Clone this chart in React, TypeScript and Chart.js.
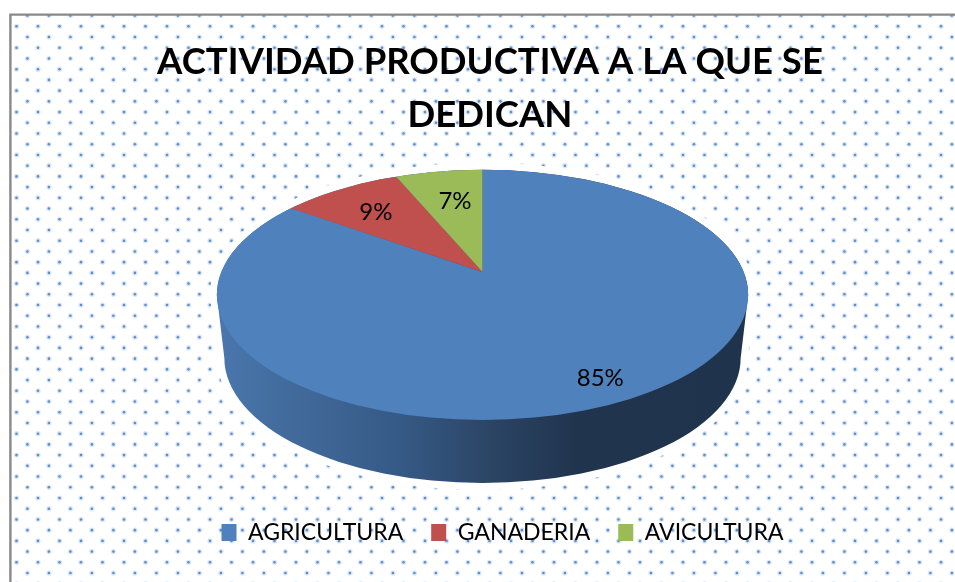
import React, { useEffect, useRef } from "react";
import { Chart, registerables } from "chart.js";

Chart.register(...registerables);

const titleLines = ["ACTIVIDAD PRODUCTIVA A LA QUE SE", "DEDICAN"];
const categories = ["AGRICULTURA", "GANADERIA", "AVICULTURA"];
const shares = [85, 9, 7];
const sliceColors = ["#4F81BD", "#C0504D", "#9BBB59"];
const labelRadii = [0.896, 0.596, 0.525];
const labelAngleNudge = [-0.02, -0.023, 0.019];

const FONT = "Lato, Carlito, 'Open Sans', sans-serif";
const STRETCH_X = 265.5 / 125;
const WEDGE_Y = 1.09;
const APEX_SHIFT = 23 / 125;
const WALL = { drop: 63, narrow: 7.5 };

function ellipse(ctx: CanvasRenderingContext2D, cx: number, cy: number, rx: number, ry: number) {
  ctx.beginPath();
  ctx.ellipse(cx, cy, rx, ry, 0, 0, Math.PI * 2);
}

function silhouette(ctx: CanvasRenderingContext2D, cx: number, cy: number, rx: number, ry: number) {
  const bx = rx - WALL.narrow;
  ctx.beginPath();
  ctx.ellipse(cx, cy, rx, ry, 0, Math.PI, 0, false);
  ctx.lineTo(cx + bx, cy + WALL.drop);
  ctx.ellipse(cx, cy + WALL.drop, bx, ry, 0, 0, Math.PI, false);
  ctx.closePath();
}

const pie3d = {
  id: "pie3d",
  beforeDraw(chart: any) {
    const { ctx, width, height } = chart;
    ctx.save();
    ctx.fillStyle = "#ffffff";
    ctx.fillRect(0, 0, width, height);
    ctx.beginPath();
    ctx.rect(10, 15, width, height);
    ctx.clip();
    let row = 0;
    for (let y = 15.6; y < height + 10; y += 10.72, row++) {
      for (let x = row % 2 ? 16.5 : 27.4; x < width + 10; x += 21.5) {
        ctx.fillStyle = "rgba(120,165,225,0.28)";
        ctx.beginPath();
        ctx.arc(x, y, 2.6, 0, Math.PI * 2);
        ctx.fill();
        ctx.fillStyle = "#5f8fcb";
        ctx.beginPath();
        ctx.arc(x, y, 1.3, 0, Math.PI * 2);
        ctx.fill();
      }
    }
    ctx.restore();
    ctx.save();
    ctx.strokeStyle = "#898989";
    ctx.lineWidth = 2.4;
    ctx.beginPath();
    ctx.moveTo(10.4, height + 5);
    ctx.lineTo(10.4, 14.6);
    ctx.lineTo(width + 5, 14.6);
    ctx.stroke();
    ctx.restore();
  },
  afterLayout(chart: any) {
    chart.titleBlock.left += 7.5;
    chart.titleBlock.right += 7.5;
    chart.legend.left += 20;
    chart.legend.right += 20;
    chart.legend.top += 73;
    chart.legend.bottom += 73;
  },
  afterDatasetsUpdate(chart: any) {
    chart.getDatasetMeta(0).data.forEach((arc: any) => {
      if (arc.$R) return;
      arc.$R = arc.outerRadius;
      arc.$cy = arc.y;
      arc.y = arc.y - arc.$R * APEX_SHIFT;
      arc.outerRadius = arc.$R * (1 + APEX_SHIFT + 0.1);
    });
  },
  beforeDatasetsDraw(chart: any) {
    const { ctx } = chart;
    const a = chart.getDatasetMeta(0).data[0];
    const cx = a.x;
    const cy = a.$cy;
    const R = a.$R;
    const rx = R * STRETCH_X;
    ctx.save();
    ctx.strokeStyle = "#ffffff";
    ctx.fillStyle = "#ffffff";
    ctx.lineWidth = 14;
    ctx.lineJoin = "round";
    silhouette(ctx, cx, cy, rx, R);
    ctx.stroke();
    ctx.fill();
    const grad = ctx.createLinearGradient(cx - rx, 0, cx + rx, 0);
    grad.addColorStop(0, "#4A77AE");
    grad.addColorStop(0.1, "#446EA0");
    grad.addColorStop(0.35, "#355985");
    grad.addColorStop(0.52, "#2B4464");
    grad.addColorStop(0.68, "#20344D");
    grad.addColorStop(1, "#1F334C");
    ctx.fillStyle = grad;
    silhouette(ctx, cx, cy, rx, R);
    ctx.fill();
    ellipse(ctx, cx, cy, rx, R);
    ctx.clip();
    ctx.translate(cx, a.y);
    ctx.scale(STRETCH_X, WEDGE_Y);
    ctx.translate(-cx, -a.y);
  },
  afterDatasetsDraw(chart: any) {
    const { ctx } = chart;
    ctx.restore();
    ctx.save();
    ctx.font = `24px ${FONT}`;
    ctx.fillStyle = "#000000";
    ctx.textAlign = "center";
    ctx.textBaseline = "middle";
    chart.getDatasetMeta(0).data.forEach((arc: any, i: number) => {
      const mid = (arc.startAngle + arc.endAngle) / 2 + labelAngleNudge[i];
      const r = arc.$R * labelRadii[i];
      ctx.fillText(
        `${shares[i]}%`,
        arc.x + Math.cos(mid) * r * STRETCH_X,
        arc.y + Math.sin(mid) * r * WEDGE_Y
      );
    });
    ctx.restore();
  },
};

export default function App() {
  const ref = useRef<HTMLCanvasElement>(null);
  useEffect(() => {
    const chart = new Chart(ref.current as HTMLCanvasElement, {
      type: "pie",
      data: {
        labels: categories,
        datasets: [
          {
            data: shares,
            backgroundColor: sliceColors,
            borderWidth: 0,
            clip: false,
          } as any,
        ],
      },
      plugins: [pie3d],
      options: {
        animation: false,
        responsive: false,
        events: [],
        rotation: 0,
        layout: { padding: { left: 10, right: 0, top: 0, bottom: 101 } },
        plugins: {
          tooltip: { enabled: false },
          title: {
            display: true,
            text: titleLines,
            color: "#000000",
            font: { family: FONT, size: 36.5, weight: "bold", lineHeight: 1.45 },
            padding: { top: 35.5, bottom: 28.5 },
          },
          legend: {
            position: "bottom",
            labels: {
              color: "#000000",
              font: { family: FONT, size: 23 },
              boxWidth: 15,
              boxHeight: 17,
              padding: 28,
            },
          },
        },
      },
    } as any);
    return () => chart.destroy();
  }, []);
  return (
    <div style={{ position: "fixed", left: 0, top: 0, width: 955, height: 582 }}>
      <canvas ref={ref} width={955} height={582} style={{ display: "block" }} />
    </div>
  );
}
